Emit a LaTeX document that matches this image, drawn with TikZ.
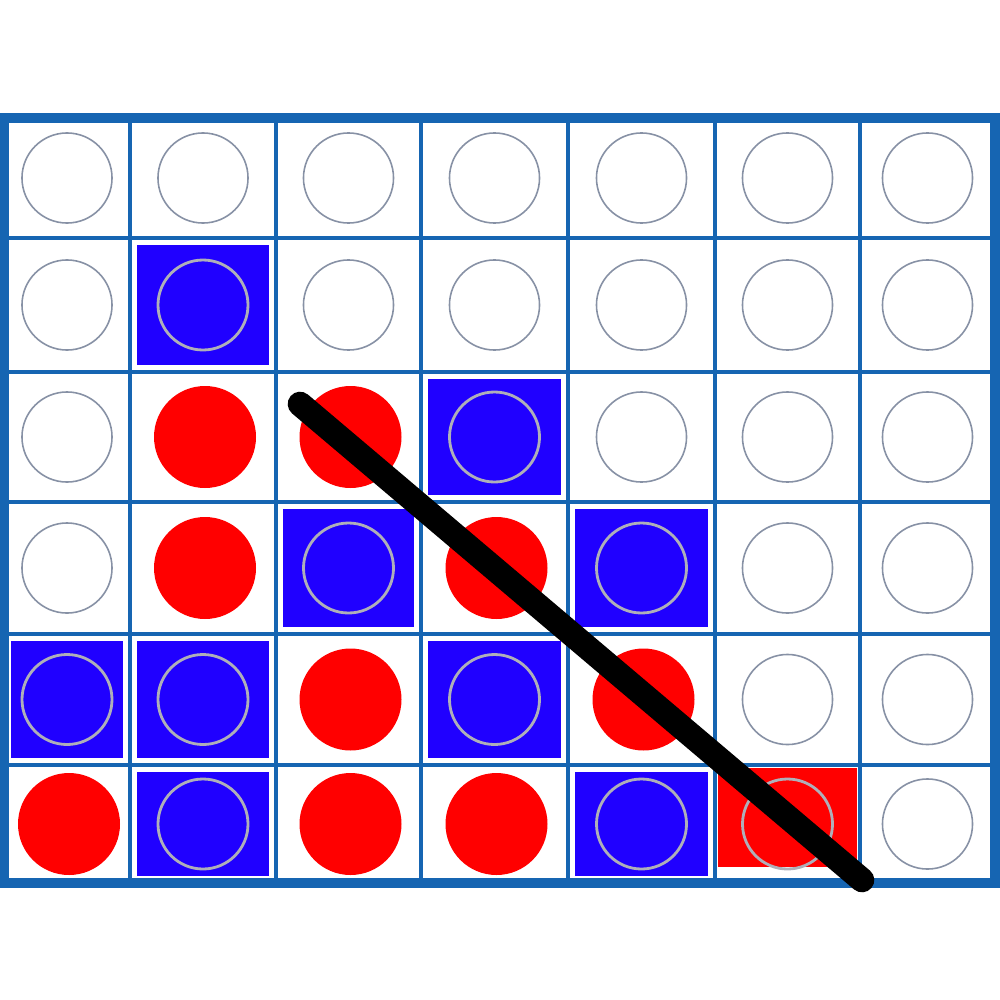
\documentclass[tikz,border=0pt]{standalone}
\usepackage{tikz}
\definecolor{boardblue}{RGB}{22,101,178}
\definecolor{chipblue}{RGB}{32,0,255}
\definecolor{chipred}{RGB}{255,0,0}
\definecolor{holegray}{RGB}{135,145,165}
\definecolor{ringgray}{RGB}{175,175,185}
\tikzset{
  hole/.style={circle, draw=holegray, line width=0.45pt, minimum size=0.9cm, inner sep=0pt},
  ring/.style={draw=ringgray, line width=0.8pt},
  gridline/.style={draw=boardblue, line width=1.3pt},
  frame/.style={draw=boardblue, line width=2.7pt},
  winline/.style={line width=7pt, line cap=round},
}
\def\xl{{4,130,276,421,568,715,860,995}}
\def\yl{{118,238,372,502,634,765,883}}
\newcommand\getcell[2]{%
  \pgfmathsetmacro\cxa{\xl[#1]}\pgfmathsetmacro\cxb{\xl[#1+1]}%
  \pgfmathsetmacro\cya{\yl[#2]}\pgfmathsetmacro\cyb{\yl[#2+1]}}

\begin{document}
\begin{tikzpicture}[x=0.01cm,y=-0.01cm]
    \useasboundingbox (0,0) rectangle (1000,1000);
    \fill[white] (0,0) rectangle (1000,1000);

    % empty holes
    \foreach \c in {0,...,6}
      \foreach \r in {0,...,5}{
        \getcell{\c}{\r}
        \node[hole] (h-\c-\r) at ({(\cxa+\cxb)/2},{(\cya+\cyb)/2}) {};
      }

    % blue chips
    \foreach \c/\r in {1/1,3/2,2/3,4/3,0/4,1/4,3/4,1/5,4/5}{
        \getcell{\c}{\r}
        \fill[chipblue] (\cxa+7,\cya+7) rectangle (\cxb-7,\cyb-7);
        \draw[ring] (h-\c-\r.center) circle (45);
    }

    % red chips
    \foreach \c/\r in {1/2,2/2,1/3,3/3,2/4,4/4,0/5,2/5,3/5}
        \fill[chipred] ([xshift=0.02cm]h-\c-\r.center) circle (51);
    \getcell{5}{5}
    \fill[chipred] (\cxa+3,\cya+3) rectangle (\cxb-3,\cyb-16);
    \draw[ring] (h-5-5.center) circle (45);

    % board
    \foreach \c in {1,...,6}{
        \pgfmathsetmacro\gx{\xl[\c]}
        \draw[gridline] (\gx,118) -- (\gx,883);
    }
    \foreach \r in {1,...,5}{
        \pgfmathsetmacro\gy{\yl[\r]}
        \draw[gridline] (4,\gy) -- (995,\gy);
    }
    \draw[frame] (4,118) rectangle (995,883);

    % winning line
    \coordinate (win-a) at (300,404);
    \coordinate (win-b) at (862,880);
    \draw[winline] (win-a) -- (win-b);
\end{tikzpicture}
\end{document}
